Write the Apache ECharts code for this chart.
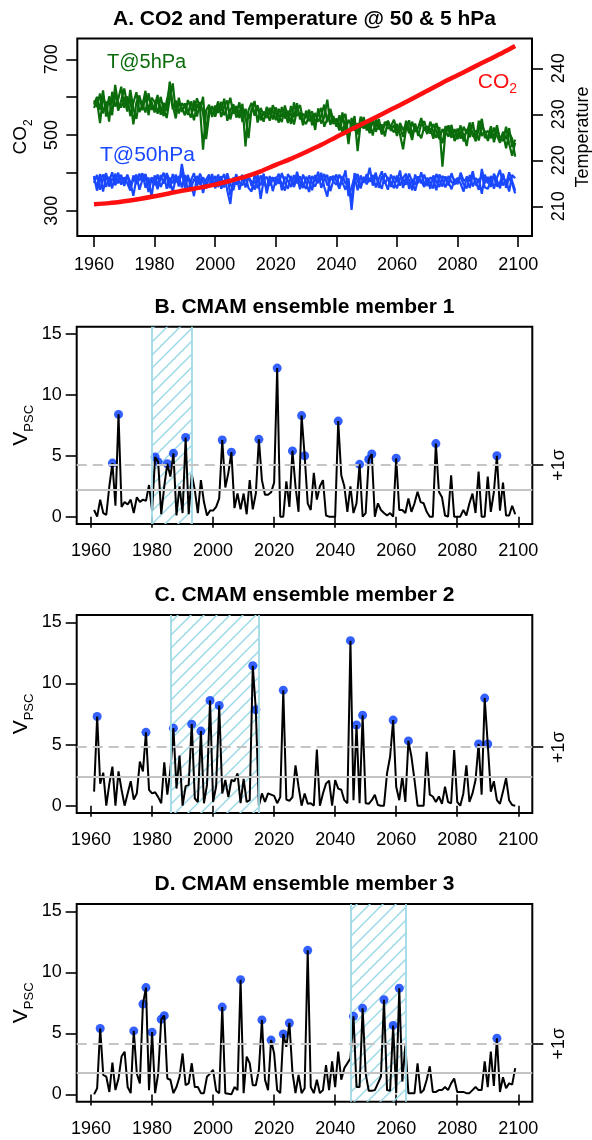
<!DOCTYPE html>
<html><head><meta charset="utf-8">
<script src="https://cdn.jsdelivr.net/npm/echarts@6/dist/echarts.min.js"></script>
<style>html,body{margin:0;padding:0;background:#fff}#c{width:592px;height:1140px}</style>
</head><body><div id="c"></div>
<script>
// ---------- DATA ----------
const startA = 1960;   // first year of panel A series
const startV = 1961;   // first year of V_PSC series
const xTicks = [1960, 1980, 2000, 2020, 2040, 2060, 2080, 2100];
const co2Ticks = [300, 400, 500, 600, 700];
const co2Labels = [300, 500, 700];
const tempTicks = [210, 220, 230, 240];
const vTicks = [0, 5, 10, 15];

const co2Years = [1960,1965,1970,1975,1980,1985,1990,1995,2000,2005,2010,2015,2020,2025,2030,2035,2040,2045,2050,2055,2060,2065,2070,2075,2080,2085,2090,2095,2099];
const co2 = [317,320,325,331,338,346,354,361,369,379,390,404,421,437,455,474,495,515,535,555,575,596,617,638,658,678,698,718,735];

const t5a = [
232.1,233.8,231.0,235.2,229.5,233.9,232.4,234.6,230.8,233.1,
235.6,231.9,233.4,227.8,232.6,234.1,230.9,233.7,231.2,232.8,
230.4,233.2,231.5,229.6,232.9,235.8,231.1,233.0,230.2,232.4,
231.6,229.9,232.8,230.7,233.5,231.2,222.3,230.8,232.1,229.4,
231.9,230.3,232.7,229.8,231.4,233.6,230.1,231.8,229.2,232.3,
223.0,230.9,232.5,229.7,231.3,230.2,228.4,231.6,229.9,230.8,
228.7,231.2,229.5,230.6,228.1,231.8,229.3,232.4,228.9,230.1,
229.2,231.0,227.6,230.3,228.4,229.7,232.1,228.3,230.5,227.9,
229.1,227.2,230.4,226.3,228.8,227.5,229.6,222.0,228.1,226.9,
228.6,226.8,228.2,227.3,229.0,226.1,227.9,228.5,226.4,227.7,
225.3,228.1,226.6,227.8,225.9,228.4,226.2,227.1,229.2,226.5,
227.4,225.8,227.9,226.3,224.6,226.8,225.5,227.6,226.0,225.1,
226.9,224.7,227.3,225.8,228.2,225.1,226.5,224.3,227.8,225.9,
226.4,224.8,227.1,225.3,223.8,226.2,224.6,227.0,222.9,224.5];
const t5b = [
233.0,231.6,234.5,230.2,232.8,228.4,234.9,231.7,233.3,236.0,
231.4,233.9,229.6,232.5,234.8,230.5,232.0,235.1,229.8,233.6,
232.7,230.1,233.8,231.0,229.2,233.4,236.7,230.6,232.3,231.4,
229.8,233.1,231.3,228.7,232.2,230.9,233.8,225.6,231.5,230.2,
230.6,232.8,229.4,231.7,233.0,228.9,231.5,230.2,232.6,228.3,
231.2,229.0,230.7,232.9,228.2,231.4,229.8,230.5,228.6,232.0,
230.3,228.2,231.6,229.1,230.8,227.9,232.6,229.7,230.4,227.6,
230.8,228.5,229.9,226.6,231.3,228.0,229.4,233.2,227.7,229.6,
227.3,229.8,225.9,228.6,223.5,229.2,226.4,228.0,227.1,229.4,
226.5,228.3,225.4,228.9,226.7,227.8,225.2,228.6,227.0,226.1,
227.9,225.6,222.4,226.9,228.7,225.5,227.6,226.1,224.8,227.3,
225.7,228.4,226.2,224.9,227.2,218.6,226.4,225.1,227.7,224.2,
225.4,227.6,224.1,226.8,225.0,228.3,224.4,226.7,229.0,224.9,
225.1,227.4,223.9,226.6,225.0,224.2,227.3,223.6,221.0,223.8];
const t5c = [
231.4,232.9,228.1,234.0,231.6,233.2,229.8,236.4,232.1,231.5,
233.8,230.6,235.3,231.2,229.0,233.5,232.2,230.4,234.6,231.0,
231.8,234.2,229.9,232.5,230.7,237.1,232.0,229.1,233.6,230.5,
232.4,230.6,229.3,233.0,229.5,232.7,230.3,224.6,230.0,231.8,
229.5,231.7,230.8,233.4,228.6,230.9,232.2,229.3,230.7,231.5,
229.6,224.8,231.3,230.4,232.0,228.7,230.6,229.2,231.4,228.9,
231.5,229.7,228.3,231.9,229.4,230.2,227.8,230.9,232.0,228.7,
227.9,229.8,230.6,228.2,229.9,231.4,227.3,229.0,231.2,228.6,
228.4,226.5,228.9,230.1,224.8,227.6,228.7,225.6,229.5,227.8,
227.7,225.9,229.1,226.2,228.0,225.6,228.4,226.9,227.4,228.8,
226.4,227.2,225.1,228.6,226.7,224.4,228.0,225.3,227.9,228.5,
226.1,227.0,224.7,228.1,225.9,223.7,227.4,226.6,224.9,226.8,
224.6,226.3,225.7,223.1,227.4,225.8,224.1,228.6,225.3,226.4,
224.2,226.5,225.0,227.6,224.3,225.8,222.6,226.0,224.7,220.8];

const t50a = [
216.2,214.1,217.0,213.2,216.5,215.3,217.4,214.6,215.9,216.8,
214.4,216.9,215.2,212.3,216.1,215.6,217.2,214.0,216.3,212.0,
216.7,214.8,215.9,217.3,213.8,216.2,215.0,216.9,214.3,219.2,
215.4,216.8,213.7,216.0,214.9,217.1,215.3,213.9,216.4,215.1,
216.6,214.2,215.8,217.0,213.4,210.5,216.3,214.7,215.9,216.8,
214.1,216.2,215.4,213.6,216.9,211.6,215.7,216.4,214.5,215.8,
216.3,214.9,217.2,215.1,213.8,216.6,214.4,217.5,215.2,214.0,
216.4,215.3,213.5,216.8,215.0,217.3,214.2,212.1,216.5,215.4,
214.7,216.9,215.2,213.6,216.1,209.2,215.8,217.0,214.3,216.2,
215.6,218.4,214.5,216.7,215.1,213.8,217.2,215.9,214.2,216.6,
215.3,217.8,214.0,216.4,215.7,213.5,216.9,215.0,217.4,214.6,
216.2,215.1,213.9,217.0,215.6,214.3,216.5,215.2,213.7,216.0,
214.8,217.3,215.5,216.1,214.0,216.8,215.3,213.6,218.1,215.0,
216.4,214.2,217.1,215.6,213.9,216.7,214.8,217.4,215.5,213.4];
const t50b = [
215.1,216.8,213.6,215.9,217.2,214.3,216.0,215.4,217.3,214.7,
216.3,215.0,213.4,216.7,214.8,217.1,215.5,216.4,213.1,215.8,
214.6,216.9,214.2,215.7,216.5,213.9,217.0,215.2,216.6,214.1,
216.8,213.3,215.6,217.2,214.5,216.1,212.9,215.8,216.9,214.4,
215.2,216.9,213.8,215.5,216.7,212.4,215.1,217.0,213.6,215.9,
216.5,214.0,213.2,216.8,215.3,214.6,217.1,212.8,215.7,216.3,
214.6,216.1,215.0,213.4,217.0,215.8,214.2,216.5,213.7,216.9,
215.2,213.1,216.6,215.4,217.5,214.0,215.9,216.8,213.3,215.6,
216.9,214.3,215.5,217.8,212.2,214.0,216.4,213.5,216.7,215.1,
217.0,215.3,216.8,214.1,216.0,217.6,214.9,216.3,215.2,213.9,
216.7,214.5,216.2,217.1,213.8,215.9,214.7,216.5,215.0,216.9,
214.4,216.3,215.8,213.5,216.9,215.7,214.1,216.6,215.3,214.7,
216.2,214.9,213.2,216.5,215.4,217.6,214.5,216.0,212.7,216.9,
215.0,216.6,213.8,216.2,217.9,214.5,215.7,213.2,216.8,216.1];
const t50c = [
216.6,213.4,215.8,216.9,214.2,216.4,213.9,217.1,215.0,216.0,
215.5,216.6,214.1,215.7,216.9,213.6,215.8,217.0,214.5,216.2,
215.9,213.7,216.8,214.9,217.2,215.6,213.2,216.0,215.1,217.4,
214.0,216.2,215.5,212.2,216.6,214.7,216.3,215.0,214.2,217.0,
213.9,215.7,216.5,214.1,217.2,214.8,213.5,216.4,215.2,214.6,
215.9,216.8,214.4,215.6,213.9,216.7,215.2,214.0,216.6,213.3,
215.7,217.1,213.5,216.4,215.6,214.2,216.8,215.0,216.5,214.8,
213.8,216.7,215.1,214.3,216.2,215.7,217.0,214.5,215.8,216.6,
215.5,213.8,216.6,215.0,214.4,211.3,217.2,215.6,213.9,216.4,
214.8,216.1,215.7,217.3,214.0,216.5,215.4,213.6,216.9,215.3,
213.9,216.2,215.8,214.7,217.1,215.3,213.4,216.0,215.5,214.2,
215.9,213.8,216.7,215.4,214.2,216.6,215.8,214.5,217.2,215.1,
215.6,216.3,214.7,213.9,216.8,214.3,216.1,215.4,216.7,214.1,
213.8,215.9,216.4,214.3,215.2,217.1,214.0,216.3,214.9,212.8];

const vB = [
0.55,0.0,1.4,0.3,0.15,2.5,4.4,0.9,8.4,0.8,
1.2,1.0,1.4,0.3,1.6,1.2,1.4,1.3,2.6,0.5,
4.9,4.5,0.2,2.5,4.35,3.3,5.2,0.1,2.5,0.3,
6.5,0.2,3.5,2.2,0.3,3.0,1.2,0.1,0.5,0.5,
0.8,1.5,6.3,2.4,3.6,5.3,0.7,1.9,0.6,1.9,
0.2,3.0,0.6,1.9,6.35,3.0,1.8,1.8,2.0,2.8,
12.2,0.0,0.0,2.9,0.8,5.4,2.5,0.4,8.3,5.0,
1.1,0.55,3.6,1.4,2.5,3.0,0.1,0.0,0.0,0.0,
7.85,3.4,2.5,0.4,2.5,0.3,1.1,4.3,0.0,0.3,
4.7,5.15,0.0,1.1,0.55,0.3,0.1,0.3,0.0,4.8,
0.55,0.55,0.3,1.5,0.4,1.1,2.05,1.2,1.1,0.4,
0.0,0.0,6.0,2.05,1.6,0.1,0.0,3.4,0.0,0.0,
0.0,0.55,0.1,1.1,1.9,0.3,3.7,0.0,0.0,3.3,
0.4,2.0,5.0,0.5,2.8,0.1,0.1,0.9,0.2];
const vC = [
1.15,7.3,1.8,2.7,0.0,1.8,3.2,0.0,2.8,1.3,
0.0,1.0,2.0,0.5,1.0,3.6,2.8,6.0,1.3,1.0,
1.1,0.7,0.2,3.55,0.9,2.9,6.34,1.4,4.1,0.0,
1.6,1.7,6.67,0.6,0.3,6.1,0.2,1.7,8.6,0.3,
1.6,8.2,1.0,2.1,0.7,2.1,2.0,2.65,0.2,2.2,
0.3,0.45,11.45,7.85,0.0,1.0,0.3,1.0,0.9,0.8,
0.2,0.7,9.45,0.5,0.4,0.7,3.3,1.55,0.0,1.0,
0.15,0.2,0.0,4.6,0.0,1.0,1.8,2.05,0.0,2.1,
1.4,1.3,0.45,0.2,13.5,0.45,6.6,0.2,7.4,0.2,
0.15,0.45,0.9,0.05,0.0,0.0,2.65,4.0,7.0,1.55,
0.45,2.4,0.3,5.3,4.0,2.1,0.0,0.0,0.0,4.4,
0.9,0.75,0.3,0.75,0.15,1.55,0.3,0.2,4.55,0.3,
0.0,1.0,3.3,0.3,1.0,2.1,5.05,0.9,8.8,5.05,
1.15,2.0,0.45,0.15,1.15,2.25,0.45,0.05,0.0];
const vD = [
0.0,0.5,5.4,1.6,1.45,0.2,2.6,0.35,1.3,3.1,
3.5,0.6,0.1,5.2,1.7,0.9,7.4,8.75,0.35,5.1,
0.1,1.7,6.15,6.45,1.3,1.2,0.1,0.6,1.45,3.35,
0.75,0.9,2.55,0.6,0.6,0.1,0.1,1.45,1.7,2.0,
0.3,0.1,7.15,0.1,0.05,0.0,0.6,0.35,9.4,0.1,
3.1,2.55,0.75,0.75,2.0,6.1,1.2,0.35,4.45,3.35,
0.35,0.1,4.95,3.9,5.85,1.8,0.1,1.6,0.1,0.5,
11.8,0.6,0.1,1.2,0.1,0.35,2.4,0.35,2.7,0.6,
3.5,1.2,2.15,2.55,2.95,6.4,0.6,0.6,7.05,1.7,
0.3,0.3,0.35,0.9,1.45,7.75,0.35,0.3,5.65,0.1,
8.7,1.05,4.0,0.1,0.1,0.1,2.55,0.1,0.35,1.2,
2.3,0.2,0.2,0.35,0.35,0.6,0.35,0.9,1.3,0.2,
0.2,0.2,0.1,0.1,0.35,0.6,0.35,0.35,2.7,0.6,
3.5,0.7,4.6,0.2,1.4,0.5,0.9,0.8,2.15];

const sigmaB = 4.25, meanB = 2.2, hatchB = [1980, 1993];
const sigmaC = 4.79, meanC = 2.33, hatchC = [1986, 2015];
const sigmaD = 4.16, meanD = 1.78, hatchD = [2045, 2063];
const titles = ['A. CO2 and Temperature @ 50 & 5 hPa', 'B. CMAM ensemble member 1', 'C. CMAM ensemble member 2', 'D. CMAM ensemble member 3'];

// ---------- STYLE / LAYOUT ----------
const FONT = '"Liberation Sans", Arial, Helvetica, sans-serif';
const GREEN = '#0a6c0a', BLUE = '#1a48ff', RED = '#ff1010', DOT = '#0038ff', HATCH = '#9ed9e6', GREY = '#c4c4c4';
const boxes = [
  {left: 77.3, right: 60, top: 38.5, height: 197.5},
  {left: 76.7, right: 59.7, top: 326.7, height: 197.3},
  {left: 76.7, right: 59.7, top: 615, height: 198},
  {left: 76.7, right: 59.7, top: 904, height: 197.7}
];

function hatchCanvas() {
  const s = 13, c = document.createElement('canvas');
  c.width = s; c.height = s;
  const g = c.getContext('2d');
  g.strokeStyle = HATCH; g.lineWidth = 1.5;
  g.beginPath();
  g.moveTo(0, s); g.lineTo(s, 0);
  g.moveTo(-s / 2, s / 2); g.lineTo(s / 2, -s / 2);
  g.moveTo(s / 2, s * 1.5); g.lineTo(s * 1.5, s / 2);
  g.stroke();
  return c;
}
const pat = {image: hatchCanvas(), repeat: 'repeat'};

const pairs = (start, arr) => arr.map((v, i) => [start + i, v]);
const plain = v => String(v);
const lbl = (extra) => Object.assign({color: '#000', fontSize: 18, fontFamily: FONT, formatter: plain}, extra);
const tick = (vals) => ({show: true, length: 11, customValues: vals, lineStyle: {color: '#000', width: 1.6}});

const grid = boxes.map(b => Object.assign({show: true, borderColor: '#000', borderWidth: 2, backgroundColor: 'transparent'}, b));

const xAxis = boxes.map((b, i) => ({
  type: 'value', gridIndex: i,
  min: i === 0 ? 1954.5 : 1955.3, max: i === 0 ? 2104.55 : 2104.6,
  axisLine: {show: false}, splitLine: {show: false},
  axisTick: tick(xTicks),
  axisLabel: lbl({customValues: xTicks, margin: i === 0 ? 20 : 18})
}));

const panels = [
  {v: vB, sigma: sigmaB, mean: meanB, hatch: hatchB},
  {v: vC, sigma: sigmaC, mean: meanC, hatch: hatchC},
  {v: vD, sigma: sigmaD, mean: meanD, hatch: hatchD}
];

const yAxis = [
  {type: 'value', gridIndex: 0, position: 'left', min: 233.16, max: 754.95,
   axisLine: {show: false}, splitLine: {show: false}, axisTick: tick(co2Ticks),
   axisLabel: lbl({customValues: co2Labels, rotate: 90, margin: 16})},
  {type: 'value', gridIndex: 0, position: 'right', min: 203.54, max: 246.48,
   axisLine: {show: false}, splitLine: {show: false}, axisTick: tick(tempTicks),
   axisLabel: lbl({customValues: tempTicks, rotate: 90, margin: 18})}
];
panels.forEach((p, k) => {
  yAxis.push({type: 'value', gridIndex: k + 1, position: 'left', min: -0.6, max: 15.6,
    axisLine: {show: false}, splitLine: {show: false}, axisTick: tick(vTicks),
    axisLabel: lbl({customValues: vTicks, margin: 15})});
  yAxis.push({type: 'value', gridIndex: k + 1, position: 'right', min: -0.6, max: 15.6,
    axisLine: {show: false}, splitLine: {show: false}, axisTick: tick([p.sigma]),
    axisLabel: lbl({customValues: [p.sigma], rotate: 90, margin: 18, formatter: () => '+1σ'})});
});

const series = [];
[t5a, t5b, t5c].forEach(d => series.push({type: 'line', xAxisIndex: 0, yAxisIndex: 1, data: pairs(startA, d),
  showSymbol: false, symbol: 'none', lineStyle: {color: GREEN, width: 2.2}, silent: true}));
[t50a, t50b, t50c].forEach(d => series.push({type: 'line', xAxisIndex: 0, yAxisIndex: 1, data: pairs(startA, d),
  showSymbol: false, symbol: 'none', lineStyle: {color: BLUE, width: 2.2}, silent: true}));
series.push({type: 'line', xAxisIndex: 0, yAxisIndex: 0, data: co2Years.map((y, i) => [y, co2[i]]),
  smooth: 0.3, showSymbol: false, symbol: 'none', lineStyle: {color: RED, width: 4.5}, silent: true});

panels.forEach((p, k) => {
  const gi = k + 1, yi = 2 + 2 * k;
  const d = pairs(startV, p.v);
  series.push({type: 'line', xAxisIndex: gi, yAxisIndex: yi, data: d, showSymbol: false, symbol: 'none',
    lineStyle: {opacity: 0, width: 0}, silent: true,
    markArea: {silent: true, itemStyle: {color: pat, borderWidth: 0}, data: [[{xAxis: p.hatch[0]}, {xAxis: p.hatch[1]}]]},
    markLine: {silent: true, symbol: ['none', 'none'], label: {show: false},
      lineStyle: {color: HATCH, width: 1.8, type: 'solid'}, data: [{xAxis: p.hatch[0]}, {xAxis: p.hatch[1]}]}
  });
  series.push({type: 'line', xAxisIndex: gi, yAxisIndex: yi, data: d, showSymbol: false, symbol: 'none',
    lineStyle: {opacity: 0, width: 0}, silent: true,
    markLine: {silent: true, symbol: ['none', 'none'], label: {show: false},
      data: [
        {yAxis: p.sigma, lineStyle: {color: GREY, width: 2, type: [10, 6]}},
        {yAxis: p.mean, lineStyle: {color: GREY, width: 2, type: 'solid'}}
      ]}
  });
  series.push({type: 'line', xAxisIndex: gi, yAxisIndex: yi, data: d, showSymbol: false, symbol: 'none',
    lineStyle: {color: '#000', width: 2}, silent: true});
  series.push({type: 'scatter', xAxisIndex: gi, yAxisIndex: yi, data: d.filter(q => q[1] > p.sigma),
    symbol: 'circle', symbolSize: 9, itemStyle: {color: DOT}, silent: true});
});

// ---------- TEXT ----------
const txt = (x, y, text, font, fill, align, rot, rich) => ({
  type: 'text', x: x, y: y, rotation: rot || 0, silent: true, z: 100,
  style: {text: text, font: font, fill: fill, align: align, textAlign: align,
    verticalAlign: 'middle', textVerticalAlign: 'middle', rich: rich}
});
const sub = (big, small, color) => ({
  a: {fontSize: big, fontFamily: FONT, fill: color, color: color, lineHeight: big + 8},
  s: {fontSize: small, fontFamily: FONT, fill: color, color: color, lineHeight: small, verticalAlign: 'bottom'}
});
const graphic = [];
boxes.forEach((b, i) => graphic.push(txt(304.5, b.top - 19.5, titles[i], 'bold 21px ' + FONT, '#000', 'center')));
graphic.push(txt(107, 62, 'T@5hPa', '20px ' + FONT, GREEN, 'left'));
graphic.push(txt(100, 155, 'T@50hPa', '21px ' + FONT, BLUE, 'left'));
graphic.push(txt(517, 82, '{a|CO}{s|2}', '21px ' + FONT, RED, 'right', 0, sub(21, 14, RED)));
graphic.push(txt(21, 137, '{a|CO}{s|2}', '19px ' + FONT, '#000', 'center', Math.PI / 2, sub(19, 12, '#000')));
graphic.push(txt(583, 137, 'Temperature', '18px ' + FONT, '#000', 'center', Math.PI / 2));
boxes.slice(1).forEach(b => graphic.push(txt(21, b.top + b.height / 2, '{a|V}{s|PSC}', '21px ' + FONT, '#000', 'center', Math.PI / 2, sub(21, 13, '#000'))));

const chart = echarts.init(document.getElementById('c'), null, {renderer: 'canvas'});
chart.setOption({
  animation: false,
  backgroundColor: '#fff',
  textStyle: {fontFamily: FONT},
  grid: grid, xAxis: xAxis, yAxis: yAxis, series: series, graphic: graphic
});
</script></body></html>
